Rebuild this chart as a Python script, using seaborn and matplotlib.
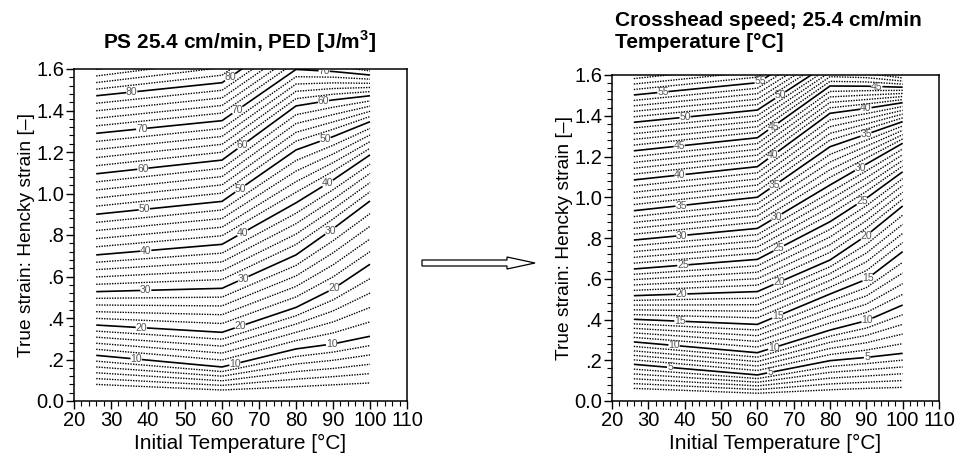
import numpy as np
import pandas as pd
import seaborn as sns
import matplotlib
matplotlib.use("Agg")
import matplotlib.pyplot as plt
from matplotlib.patches import Polygon

# ---------------- data ----------------
temps = [26, 60, 80, 90, 100]                    # initial temperature columns [°C]

# Left: plastic energy density contours; strain position of each level at each temperature
ped_levels = [0, 10, 20, 30, 40, 50, 60, 70, 80, 90]
ped_strain = [
    [0.080, 0.053, 0.069, 0.078, 0.087],
    [0.220, 0.164, 0.251, 0.275, 0.312],
    [0.366, 0.331, 0.451, 0.540, 0.659],
    [0.527, 0.543, 0.704, 0.830, 0.964],
    [0.704, 0.755, 0.955, 1.065, 1.186],
    [0.900, 0.962, 1.210, 1.274, 1.346],
    [1.095, 1.161, 1.422, 1.451, 1.471],
    [1.290, 1.351, 1.598, 1.588, 1.571],
    [1.471, 1.534, 1.780, 1.720, 1.670],
    [1.630, 1.715, 1.960, 1.850, 1.770],
]
ped_solid = [10, 20, 30, 40, 50, 60, 70, 80]
ped_step = 2

# Right: temperature contours
tmp_levels = [0, 5, 10, 15, 20, 25, 30, 35, 40, 45, 50, 55, 60]
tmp_strain = [
    [0.062, 0.038, 0.055, 0.062, 0.067],
    [0.180, 0.128, 0.198, 0.214, 0.234],
    [0.290, 0.237, 0.348, 0.394, 0.471],
    [0.401, 0.376, 0.525, 0.597, 0.733],
    [0.517, 0.537, 0.692, 0.812, 0.957],
    [0.648, 0.695, 0.880, 0.995, 1.125],
    [0.790, 0.847, 1.060, 1.163, 1.265],
    [0.934, 1.000, 1.248, 1.309, 1.371],
    [1.085, 1.150, 1.412, 1.436, 1.464],
    [1.228, 1.292, 1.546, 1.545, 1.540],
    [1.368, 1.428, 1.660, 1.650, 1.616],
    [1.502, 1.562, 1.780, 1.760, 1.690],
    [1.636, 1.700, 1.920, 1.870, 1.770],
]
tmp_solid = [5, 10, 15, 20, 25, 30, 35, 40, 45, 50, 55]
tmp_step = 1

# label anchor points (temperature, strain)
ped_label_pos = [
    (35.6, 1.49), (62.2, 1.56), (38.3, 1.31), (64.2, 1.40), (87.6, 1.587),
    (38.6, 1.12), (64.4, 1.29), (87.4, 1.45), (39.0, 0.92), (65.0, 1.02), (87.8, 1.27),
    (39.4, 0.724), (65.6, 0.808), (88.3, 1.065), (39.4, 0.53), (65.8, 0.583), (89.2, 0.824),
    (38.2, 0.358), (64.9, 0.363), (90.4, 0.535), (36.8, 0.204), (63.5, 0.177), (89.6, 0.275),
]
tmp_label_pos = [
    (34.0, 1.515), (60.7, 1.57), (40.1, 1.392), (66.2, 1.507),
    (38.5, 1.252), (64.4, 1.343), (92.9, 1.54), (38.7, 1.114), (64.4, 1.202), (89.9, 1.436),
    (39.0, 0.957), (64.9, 1.052), (89.9, 1.309), (39.2, 0.815), (65.3, 0.902), (88.0, 1.163),
    (39.5, 0.664), (66.0, 0.741), (88.5, 0.995), (39.2, 0.52), (66.0, 0.578), (89.8, 0.815),
    (38.7, 0.394), (65.7, 0.406), (90.5, 0.597), (37.1, 0.278), (64.5, 0.259), (90.2, 0.394),
    (36.0, 0.163), (63.6, 0.133), (90.2, 0.214),
]

x_ticks = [20, 30, 40, 50, 60, 70, 80, 90, 100, 110]
y_ticks = [0.0, 0.2, 0.4, 0.6, 0.8, 1.0, 1.2, 1.4, 1.6]
y_tick_labels = ["0.0", ".2", ".4", ".6", ".8", "1.0", "1.2", "1.4", "1.6"]

left_title = "PS 25.4 cm/min, PED [J/m$^\\mathbf{3}$]"
right_title = "Crosshead speed; 25.4 cm/min\nTemperature [°C]"
x_label = "Initial Temperature [°C]"
y_label = "True strain: Hencky strain [–]"

# ---------------- style ----------------
sns.set_theme(style="ticks")
plt.rcParams["font.family"] = ["Liberation Sans", "DejaVu Sans"]
plt.rcParams["mathtext.fontset"] = "custom"
plt.rcParams["mathtext.rm"] = "Liberation Sans"
plt.rcParams["mathtext.bf"] = "Liberation Sans:bold"
plt.rcParams["text.color"] = "black"
plt.rcParams["axes.labelcolor"] = "black"
plt.rcParams["xtick.color"] = "black"
plt.rcParams["ytick.color"] = "black"

W, H = 962, 459
fig = plt.figure(figsize=(W / 100, H / 100), dpi=100)
ax1 = fig.add_axes([74 / W, 1 - 401 / H, 333 / W, 332 / H])
ax2 = fig.add_axes([612 / W, 1 - 401 / H, 327 / W, 326 / H])


def draw(ax, levels, strain, solid, step, label_pos):
    lv = np.array(levels, dtype=float)
    Y = np.array(strain)
    X = np.tile(np.array(temps, dtype=float), (len(levels), 1))
    Z = np.repeat(lv[:, None], len(temps), axis=1)
    all_lv = np.arange(lv.min(), lv.max() + 1e-9, step)
    dotted = [v for v in all_lv if v not in solid]
    ax.contour(X, Y, Z, levels=dotted, colors="black",
               linestyles=[(0, (1.0, 0.9))], linewidths=1.0)
    cs = ax.contour(X, Y, Z, levels=solid, colors="black",
                    linestyles="solid", linewidths=1.2)
    texts = ax.clabel(cs, fmt="%d", fontsize=7.5, colors="#555555", inline=True,
                      inline_spacing=1, manual=label_pos)
    for t in texts:
        t.set_rotation(0)
    ax.set_xlim(20, 110)
    ax.set_ylim(0, 1.6)
    ax.set_xticks(x_ticks)
    ax.set_xticklabels([str(t) for t in x_ticks])
    ax.set_yticks(y_ticks)
    ax.set_yticklabels(y_tick_labels)
    ax.set_xticks(np.arange(20, 111, 2), minor=True)
    ax.set_yticks(np.arange(0, 1.601, 0.04), minor=True)
    ax.tick_params(axis="both", which="major", direction="out", length=6,
                   width=1, labelsize=14.5, colors="black", labelcolor="black", pad=1)
    ax.tick_params(axis="both", which="minor", direction="out", length=3.5,
                   width=0.8, colors="black")
    for s in ax.spines.values():
        s.set_color("black")
        s.set_linewidth(1.1)
    ax.set_xlabel(x_label, fontsize=15, labelpad=3, color="black")
    ax.set_ylabel(y_label, fontsize=13.8, labelpad=1, color="black")
    ax.set_facecolor("white")


draw(ax1, ped_levels, ped_strain, ped_solid, ped_step, ped_label_pos)
draw(ax2, tmp_levels, tmp_strain, tmp_solid, tmp_step, tmp_label_pos)

fig.text(240 / W, 1 - 42 / H, left_title, ha="center", va="center",
         fontsize=15, fontweight="bold", color="black")
fig.text(615 / W, 1 - 31 / H, right_title, ha="left", va="center",
         fontsize=15, fontweight="bold", linespacing=1.2, color="black")

# hollow arrow between the panels (figure pixels -> inches)
arrow_px = [(422, 260), (507, 260), (507, 257), (535, 263), (507, 269), (507, 266), (422, 266)]
arrow_in = [(x / 100, (H - y) / 100) for x, y in arrow_px]
fig.patches.append(Polygon(arrow_in, closed=True, facecolor="white", edgecolor="black",
                           linewidth=0.9, transform=fig.dpi_scale_trans, figure=fig))

fig.savefig("out.png", dpi=100, facecolor="white")
